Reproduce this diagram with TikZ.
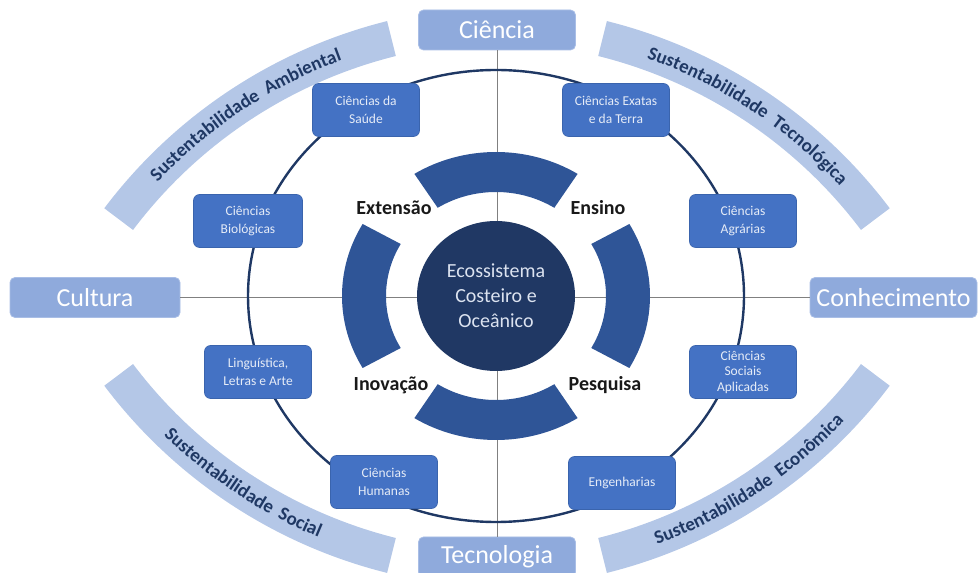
\documentclass[tikz,border=0pt]{standalone}
\usepackage{fontspec}
\setmainfont{Carlito}
\usetikzlibrary{shapes.geometric,decorations.text,calc}
\definecolor{bandc}{HTML}{B4C7E7}
\definecolor{bandtext}{HTML}{1F3864}
\definecolor{bigc}{HTML}{8FAADC}
\definecolor{bigedge}{HTML}{A9BEE6}
\definecolor{smallc}{HTML}{4472C4}
\definecolor{smalledge}{HTML}{3A64AD}
\definecolor{smalltext}{HTML}{E6ECF7}
\definecolor{ringc}{HTML}{2F5597}
\definecolor{centerc}{HTML}{203864}
\definecolor{centertext}{HTML}{DCE3F0}
\definecolor{ringline}{HTML}{1F3864}
\definecolor{crossc}{HTML}{808080}
\tikzset{
  bigbox/.style={rectangle, rounded corners=5pt, fill=bigc, draw=bigedge, line width=0.8pt,
    text=white, font=\fontsize{26}{30}\selectfont, minimum height=40pt, inner sep=0pt},
  smallbox/.style={rectangle, rounded corners=6pt, fill=smallc, draw=smalledge, line width=0.6pt,
    text=smalltext, font=\fontsize{13.5}{18}\selectfont, minimum width=107pt, minimum height=53pt,
    align=center, inner sep=2pt},
  lbl/.style={font=\fontsize{20}{24}\selectfont\bfseries, text=black!90, inner sep=0pt},
  crossline/.style={draw=crossc, line width=0.9pt},
  bandtxt/.style={decorate, decoration={text along path, text align=center,
    text color=bandtext, text={#1}}}
}
\begin{document}
\begin{tikzpicture}[x=1pt,y=1pt]
\useasboundingbox (0,0) rectangle (978,573);
\coordinate (c) at (496,277);
% sustainability bands
\coordinate (tl) at (510,59);
\coordinate (tr) at (484,59);
\coordinate (bl) at (510,493);
\coordinate (br) at (484,493);
\fill[bandc] ($(tl)+(104:508)$) arc[start angle=104, end angle=143, radius=508]
  -- ($(tl)+(143:472)$) arc[start angle=143, end angle=104, radius=472] -- cycle;
\fill[bandc] ($(tr)+(37:508)$) arc[start angle=37, end angle=76, radius=508]
  -- ($(tr)+(76:472)$) arc[start angle=76, end angle=37, radius=472] -- cycle;
\fill[bandc] ($(bl)+(217:508)$) arc[start angle=217, end angle=256, radius=508]
  -- ($(bl)+(256:472)$) arc[start angle=256, end angle=217, radius=472] -- cycle;
\fill[bandc] ($(br)+(284:508)$) arc[start angle=284, end angle=323, radius=508]
  -- ($(br)+(323:472)$) arc[start angle=323, end angle=284, radius=472] -- cycle;
\path[bandtxt={|\fontsize{19}{22}\selectfont\bfseries|Sustentabilidade {\kern4pt}Ambiental}]
  ($(tl)+(143:484)$) arc[start angle=143, end angle=104, radius=484];
\path[bandtxt={|\fontsize{19}{22}\selectfont\bfseries|Sustentabilidade {\kern4pt}Tecnológica}]
  ($(tr)+(76:484)$) arc[start angle=76, end angle=37, radius=484];
\path[bandtxt={|\fontsize{19}{22}\selectfont\bfseries|Sustentabilidade {\kern4pt}Social}]
  ($(bl)+(217:496)$) arc[start angle=217, end angle=256, radius=496];
\path[bandtxt={|\fontsize{19}{22}\selectfont\bfseries|Sustentabilidade {\kern4pt}Econômica}]
  ($(br)+(284:496)$) arc[start angle=284, end angle=323, radius=496];
% big boxes
\node[bigbox, minimum width=157pt] (ciencia) at (497,543) {Ciência};
\node[bigbox, minimum width=157pt] (tecnologia) at (497,16) {Tecnologia};
\node[bigbox, minimum width=170pt] (cultura) at (95,275.5) {Cultura};
\node[bigbox, minimum width=167pt] (conhecimento) at (893.5,275.5) {Conhecimento};
% cross lines
\draw[crossline] (ciencia) -- (tecnologia);
\draw[crossline] (cultura) -- (conhecimento);
% outer ring
\draw[ringline, line width=2.4pt] (c) ellipse[x radius=248, y radius=226];
% inner ring segments
\foreach \a/\h in {90/32,270/32,0/30,180/30}{
  \fill[ringc] ($(c)+({\a-\h}:154 and 144)$)
    arc[start angle={\a-\h}, end angle={\a+\h}, x radius=154, y radius=144]
    -- ($(c)+({\a+\h}:110 and 104)$)
    arc[start angle={\a+\h}, end angle={\a-\h}, x radius=110, y radius=104] -- cycle;
}
% center
\node[ellipse, fill=centerc, minimum width=158pt, minimum height=150pt, inner sep=0pt,
  text=centertext, align=center, font=\fontsize{20}{25}\selectfont] (eco) at (c)
  {Ecossistema\\Costeiro e\\Oceânico};
% small boxes
\node[smallbox] (saude) at (366,463) {Ciências da\\Saúde};
\node[smallbox] (exatas) at (616,463) {Ciências Exatas\\e da Terra};
\node[smallbox, minimum width=109pt] (bio) at (248,352) {Ciências\\Biológicas};
\node[smallbox] (agr) at (743,352) {Ciências\\Agrárias};
\node[smallbox] (ling) at (258,201) {Linguística,\\Letras e Arte};
\node[smallbox, font=\fontsize{13.5}{15.5}\selectfont] (soc) at (743,201) {Ciências\\Sociais\\Aplicadas};
\node[smallbox] (hum) at (384,91) {Ciências\\Humanas};
\node[smallbox] (eng) at (622,90) {Engenharias};
% labels
\node[lbl] (ext) at (394,365) {Extensão};
\node[lbl] (ens) at (598,365) {Ensino};
\node[lbl] (ino) at (391,188) {Inovação};
\node[lbl] (pes) at (605,188) {Pesquisa};
\end{tikzpicture}
\end{document}
